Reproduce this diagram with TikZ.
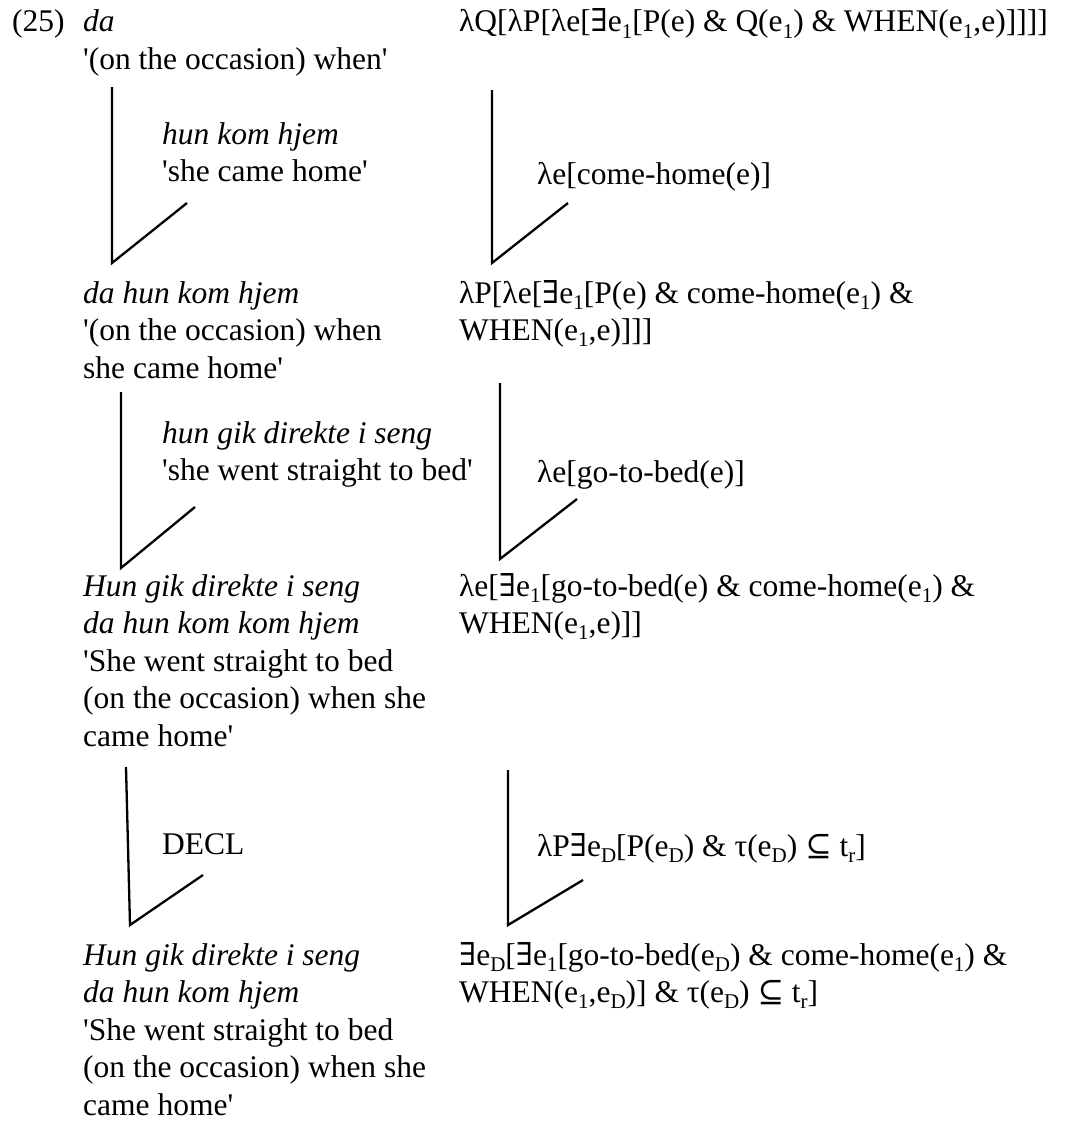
\documentclass[tikz,border=0pt]{standalone}
\usepackage{fontspec}
\setmainfont{Liberation Serif}[Ligatures=TeXOff]
\newfontfamily\symf{DejaVu Serif}
\newcommand\lo[1]{\raisebox{-0.2em}{\fontsize{21}{21}\selectfont #1}}
\newcommand\exi{{\symf ∃}}
\newcommand\sbq{{\symf ⊆}}
\begin{document}
\begin{tikzpicture}[x=1pt,y=-1pt,
        every node/.style={inner sep=0pt,anchor=base west,align=left,
            font=\fontsize{31.5}{37.5}\selectfont},
        branch/.style={line width=2.3pt,line join=miter}
    ]
    \useasboundingbox (0,0) rectangle (1076,1124);

    % multi-line nodes sit on the baseline of their last line
    \node (num) at (12,32) {(25)};
    \node (da) at (83,69.5) {\textit{da}\\'(on the occasion) when'};
    \node (daSem) at (459,32) {λQ[λP[λe[\exi e\lo{1}[P(e) \& Q(e\lo{1}) \& WHEN(e\lo{1},e)]]]]};

    \node (komhjem) at (162,181.5) {\textit{hun kom hjem}\\'she came home'};
    \node (komSem) at (537,184) {λe[come-home(e)]};

    \node (dahun) at (83,378) {\textit{da hun kom hjem}\\'(on the occasion) when\\she came home'};
    \node (dahunSem) at (459,340.5) {λP[λe[\exi e\lo{1}[P(e) \& come-home(e\lo{1}) \&\\WHEN(e\lo{1},e)]]]};

    \node (seng) at (162,480.5) {\textit{hun gik direkte i seng}\\'she went straight to bed'};
    \node (sengSem) at (537,482) {λe[go-to-bed(e)]};

    \node (helS) at (83,746) {\textit{Hun gik direkte i seng}\\\textit{da hun kom kom hjem}\\'She went straight to bed\\(on the occasion) when she\\came home'};
    \node (helSSem) at (459,633.5) {λe[\exi e\lo{1}[go-to-bed(e) \& come-home(e\lo{1}) \&\\WHEN(e\lo{1},e)]]};

    \node (decl) at (162,854) {DECL};
    \node (declSem) at (537,856) {λP\exi e\lo{D}[P(e\lo{D}) \& τ(e\lo{D}) \sbq{} t\lo{r}]};

    \node (decS) at (83,1115) {\textit{Hun gik direkte i seng}\\\textit{da hun kom hjem}\\'She went straight to bed\\(on the occasion) when she\\came home'};
    \node (decSSem) at (459,1002.5) {\exi e\lo{D}[\exi e\lo{1}[go-to-bed(e\lo{D}) \& come-home(e\lo{1}) \&\\WHEN(e\lo{1},e\lo{D})] \& τ(e\lo{D}) \sbq{} t\lo{r}]};

    \foreach \n/\xa/\ya/\xb/\yb/\xc/\yc in {
            a/112/87/112/263/187/203, b/492/90/492/263/568/203,
            c/121/392/121/568/195/507, d/500/383/500/559/577/499,
            e/126/767/130/925/203/875, f/508/770/508/925/583/880} {
        \coordinate (top\n) at (\xa,\ya);
        \coordinate (bot\n) at (\xb,\yb);
        \coordinate (arm\n) at (\xc,\yc);
        \draw[branch] (top\n) -- (bot\n) -- (arm\n);
    }

\end{tikzpicture}
\end{document}
